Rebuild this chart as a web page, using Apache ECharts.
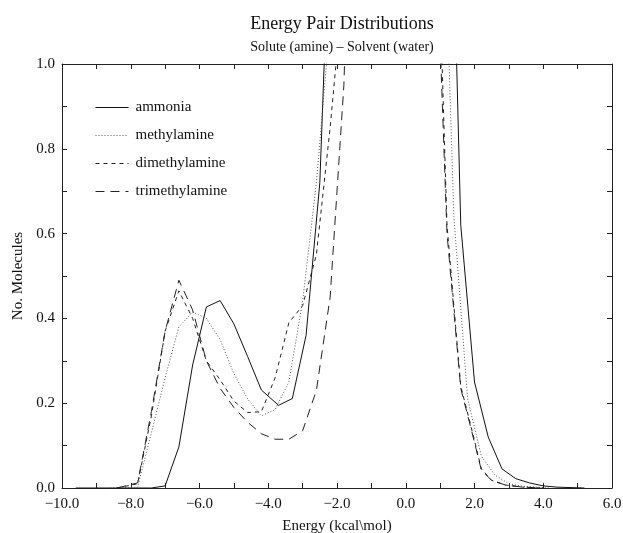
<!DOCTYPE html>
<html lang="en">
<head>
  <meta charset="UTF-8">
  <title>Energy Pair Distributions</title>
  <script src="https://cdn.jsdelivr.net/npm/echarts@6/dist/echarts.min.js"></script>
  <style>
    html, body { margin: 0; padding: 0; background: #fff; }
    #chart { width: 623px; height: 533px; }
  </style>
</head>
<body>
<div id="chart"></div>
<script>
  // energy (kcal/mol) / number of molecules
  var ammoniaE = [-9.6, -7.4, -7.0, -6.6, -6.2, -5.8, -5.4, -5.0, -4.6, -4.2, -3.7, -3.3, -2.9, -2.5, -2.1, -1.5, -0.5, 0.5, 1.2, 1.6, 2.0, 2.4, 2.8, 3.2, 3.6, 4.0, 4.4, 5.2]
  var ammoniaN = [0, 0, 0.005, 0.097, 0.29, 0.427, 0.442, 0.387, 0.31, 0.231, 0.195, 0.211, 0.36, 0.72, 1.6, 3, 3.5, 3, 1.9, 0.62, 0.25, 0.12, 0.045, 0.022, 0.012, 0.005, 0.002, 0]

  var methylE = [-8.6, -7.8, -7.4, -7.0, -6.6, -6.2, -5.8, -5.4, -5.0, -4.6, -4.2, -3.8, -3.4, -3.0, -2.6, -2.2, -1.6, -0.5, 0.5, 1.0, 1.4, 1.8, 2.2, 2.6, 3.0, 3.4, 4.2]
  var methylN = [0, 0.002, 0.13, 0.26, 0.38, 0.415, 0.40, 0.35, 0.27, 0.21, 0.17, 0.185, 0.25, 0.44, 0.72, 1.1, 2.5, 3.5, 3, 1.67, 0.64, 0.21, 0.075, 0.03, 0.01, 0.004, 0]

  var dimethylE = [-8.4, -7.8, -7.4, -7.0, -6.6, -6.2, -5.8, -5.4, -5.0, -4.6, -4.2, -3.8, -3.4, -3.0, -2.6, -2.2, -1.8, -1.0, 0, 0.7, 1.0, 1.2, 1.6, 1.9, 2.2, 2.5, 2.9, 3.4, 4.0]
  var dimethylN = [0, 0.01, 0.17, 0.37, 0.465, 0.40, 0.30, 0.255, 0.205, 0.178, 0.18, 0.26, 0.39, 0.43, 0.55, 0.85, 1.2, 3, 3.5, 2.5, 1.15, 0.62, 0.24, 0.145, 0.045, 0.018, 0.007, 0.002, 0]

  var trimethylE = [-8.4, -7.8, -7.4, -7.0, -6.6, -6.2, -5.8, -5.4, -5.0, -4.6, -4.2, -3.8, -3.4, -3.0, -2.6, -2.2, -1.8, -1.4, -0.5, 0.5, 0.8, 1.0, 1.2, 1.6, 1.9, 2.2, 2.5, 2.9, 3.4, 4.0]
  var trimethylN = [0, 0.012, 0.18, 0.37, 0.49, 0.42, 0.30, 0.235, 0.19, 0.155, 0.128, 0.115, 0.115, 0.135, 0.23, 0.45, 0.95, 2, 3.5, 3, 1.8, 1.05, 0.6, 0.235, 0.14, 0.042, 0.018, 0.007, 0.002, 0]

  var seriesNames = ['ammonia', 'methylamine', 'dimethylamine', 'trimethylamine']

  var font = 'Liberation Serif'

  function pairs(xs, ys) {
    return xs.map(function (x, i) { return [x, ys[i]] })
  }

  // label every second tick, with a real minus sign
  function fmt(v) {
    var s = Math.abs(v).toFixed(1)
    return v < -1e-9 ? '\u2212' + s : s
  }

  function lineSeries(name, data, color, dash) {
    return {
      name: name,
      type: 'line',
      symbol: 'none',
      clip: true,
      animation: false,
      xAxisIndex: 0,
      yAxisIndex: 0,
      lineStyle: { color: color, width: 1, type: dash },
      itemStyle: { color: color },
      data: data
    }
  }

  var tickStyle = { inside: true, length: 5, lineStyle: { color: '#222' } }
  var lineStyleBox = { show: true, onZero: false, lineStyle: { color: '#222' } }

  var option = {
    backgroundColor: '#fff',
    title: [{
      text: 'Energy Pair Distributions',
      left: 337,
      top: 10,
      textAlign: 'center',
      textStyle: { fontFamily: font, fontSize: 18, fontWeight: 'normal', color: '#111' }
    }, {
      text: 'Solute (amine) \u2013 Solvent (water)',
      left: 337,
      top: 35,
      textAlign: 'center',
      textStyle: { fontFamily: font, fontSize: 14, fontWeight: 'normal', color: '#111' }
    }],
    legend: {
      orient: 'vertical',
      left: 90,
      top: 95,
      itemWidth: 33,
      itemHeight: 14,
      itemGap: 13,
      itemStyle: { opacity: 0, color: 'transparent', borderWidth: 0 },
      lineStyle: { width: 1 },
      textStyle: { fontFamily: font, fontSize: 15, color: '#111', padding: [0, 0, 0, 2] },
      data: seriesNames
    },
    grid: { left: 62, right: 11, top: 64, bottom: 45, containLabel: false, outerBoundsMode: 'none' },
    xAxis: [{
      type: 'value',
      min: -10,
      max: 6,
      interval: 1,
      name: 'Energy (kcal\\mol)',
      nameLocation: 'middle',
      nameGap: 31,
      nameTextStyle: { fontFamily: font, fontSize: 15, color: '#111' },
      axisLine: lineStyleBox,
      axisTick: tickStyle,
      axisLabel: {
        fontFamily: font, fontSize: 15, color: '#111', margin: 9,
        formatter: function (v) { return Math.round(v) % 2 === 0 ? fmt(v) : '' }
      },
      splitLine: { show: false }
    }, {
      type: 'value',
      position: 'top',
      min: -10,
      max: 6,
      interval: 1,
      axisLine: lineStyleBox,
      axisTick: tickStyle,
      axisLabel: { show: false },
      splitLine: { show: false }
    }],
    yAxis: [{
      type: 'value',
      min: 0,
      max: 1,
      interval: 0.1,
      name: 'No. Molecules',
      nameLocation: 'middle',
      nameGap: 36,
      nameTextStyle: { fontFamily: font, fontSize: 15, color: '#111' },
      axisLine: lineStyleBox,
      axisTick: tickStyle,
      axisLabel: {
        fontFamily: font, fontSize: 15, color: '#111', margin: 7,
        formatter: function (v) { return Math.round(v * 10) % 2 === 0 ? fmt(v) : '' }
      },
      splitLine: { show: false }
    }, {
      type: 'value',
      position: 'right',
      min: 0,
      max: 1,
      interval: 0.1,
      axisLine: lineStyleBox,
      axisTick: tickStyle,
      axisLabel: { show: false },
      splitLine: { show: false }
    }],
    series: [
      lineSeries('ammonia', pairs(ammoniaE, ammoniaN), '#111', 'solid'),
      lineSeries('methylamine', pairs(methylE, methylN), '#555', [1, 2]),
      lineSeries('dimethylamine', pairs(dimethylE, dimethylN), '#222', [4, 4]),
      lineSeries('trimethylamine', pairs(trimethylE, trimethylN), '#222', [9, 6])
    ]
  }

  var chart = echarts.init(document.getElementById('chart'), null, { renderer: 'canvas' })
  chart.setOption(option)
</script>
</body>
</html>
